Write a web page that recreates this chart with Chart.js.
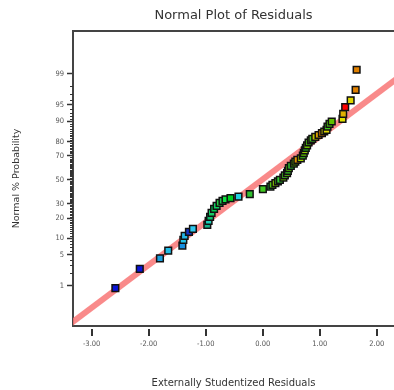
<!DOCTYPE html>
<html>
<head>
<meta charset="utf-8">
<title>Normal Plot of Residuals</title>
<script src="https://cdn.jsdelivr.net/npm/chart.js@4"></script>
<style>
  html, body { margin: 0; padding: 0; background: #fff; }
  #wrap { width: 394px; height: 390px; }
</style>
</head>
<body>
<div id="wrap"><canvas id="chart"></canvas></div>
<script>
// Externally studentized residuals (x) and normal % probability (y)
const residuals = [
  -2.584, -2.156, -1.802, -1.657, -1.409, -1.392, -1.369, -1.294, -1.224, -0.972,
  -0.949, -0.923, -0.897, -0.853, -0.809, -0.757, -0.705, -0.652, -0.565, -0.425,
  -0.227, 0.003, 0.135, 0.170, 0.222, 0.266, 0.301, 0.362, 0.388, 0.427,
  0.441, 0.458, 0.493, 0.545, 0.572, 0.607, 0.668, 0.703, 0.720, 0.738,
  0.755, 0.778, 0.804, 0.843, 0.869, 0.921, 0.979, 1.038, 1.079, 1.119,
  1.136, 1.171, 1.210, 1.399, 1.411, 1.446, 1.542, 1.629, 1.647
];
const probabilities = [
  0.87, 2.52, 4.23, 6.01, 7.44, 9.36, 10.92, 12.65, 14.07, 16.13,
  18.38, 20.81, 23.42, 26.20, 28.40, 30.68, 32.21, 33.40, 34.38, 35.68,
  37.67, 41.91, 44.15, 45.62, 47.11, 48.68, 50.00, 52.02, 53.94, 55.85,
  57.84, 60.14, 62.09, 63.98, 65.62, 67.00, 68.18, 70.33, 72.14, 74.16,
  75.90, 77.58, 79.39, 80.73, 81.62, 82.77, 83.77, 84.76, 85.58, 86.41,
  87.92, 89.08, 90.00, 91.00, 92.66, 94.50, 95.97, 97.60, 99.22
];
// colour of each point (run colouring in the original)
const pointColors = [
  '#0a14d8', '#0a14d8', '#1aa0e0', '#22bde6', '#148fe0', '#22c4e8', '#22b4e6', '#1432c8', '#2ec8f0', '#12b088',
  '#1ccfb8', '#10c070', '#14cc66', '#00c850', '#10d060', '#20d040', '#18c850', '#10e040', '#00d020', '#22d0e0',
  '#30c030', '#40c820', '#20c840', '#50c010', '#90d000', '#40c020', '#30c830', '#70c800', '#40c020', '#60c810',
  '#30c020', '#50c000', '#30c830', '#60c000', '#80c800', '#e09000', '#a0d000', '#40c820', '#60c000', '#90c800',
  '#30c020', '#70c000', '#50c810', '#80c800', '#40c020', '#c0c000', '#d8a000', '#e08000', '#d0d000', '#e0d800',
  '#40c020', '#50c810', '#60c000', '#e0e000', '#e0b000', '#ff0000', '#e0d800', '#e08000', '#e08000'
];
// reference line, two ends (x, %)
const fitX = [-3.5, 2.5];
const fitP = [0.052, 99.09];

const xTicks = [-3, -2, -1, 0, 1, 2];
const yTickLabels = [1, 5, 10, 20, 30, 50, 70, 80, 90, 95, 99];
const yMinorTicks = [2, 3, 4, 6, 7, 8, 9, 11, 12, 13, 14, 15, 16, 17, 18, 19,
  21, 22, 23, 24, 25, 26, 27, 28, 29, 31, 32, 33, 34, 35, 36, 37, 38, 39, 40,
  41, 42, 43, 44, 45, 46, 47, 48, 49, 51, 52, 53, 54, 55, 56, 57, 58, 59, 60,
  61, 62, 63, 64, 65, 66, 67, 68, 69, 71, 72, 73, 74, 75, 76, 77, 78, 79,
  81, 82, 83, 84, 85, 86, 87, 88, 89, 91, 92, 93, 94, 96, 97, 98];

// inverse normal cdf (Acklam), percent in -> z out
function probit(pct) {
  const p = pct / 100;
  const a = [-3.969683028665376e+01, 2.209460984245205e+02, -2.759285104469687e+02, 1.383577518672690e+02, -3.066479806614716e+01, 2.506628277459239e+00];
  const b = [-5.447609879822406e+01, 1.615858368580409e+02, -1.556989798598866e+02, 6.680131188771972e+01, -1.328068155288572e+01];
  const c = [-7.784894002430293e-03, -3.223964580411365e-01, -2.400758277161838e+00, -2.549732539343734e+00, 4.374664141464968e+00, 2.938163982698783e+00];
  const d = [7.784695709041462e-03, 3.224671290700398e-01, 2.445134137142996e+00, 3.754408661907416e+00];
  const plow = 0.02425;
  let q, r;
  if (p < plow) {
    q = Math.sqrt(-2 * Math.log(p));
    return (((((c[0]*q+c[1])*q+c[2])*q+c[3])*q+c[4])*q+c[5]) / ((((d[0]*q+d[1])*q+d[2])*q+d[3])*q+1);
  }
  if (p > 1 - plow) {
    q = Math.sqrt(-2 * Math.log(1 - p));
    return -(((((c[0]*q+c[1])*q+c[2])*q+c[3])*q+c[4])*q+c[5]) / ((((d[0]*q+d[1])*q+d[2])*q+d[3])*q+1);
  }
  q = p - 0.5; r = q * q;
  return (((((a[0]*r+a[1])*r+a[2])*r+a[3])*r+a[4])*r+a[5])*q / (((((b[0]*r+b[1])*r+b[2])*r+b[3])*r+b[4])*r+1);
}

const tickFont = { family: "'Liberation Sans Narrow', 'DejaVu Sans Condensed', sans-serif", size: 7.5 };

// minor ticks on the probability axis, detached ticks on the x axis
const extraTicks = {
  id: 'extraTicks',
  afterDraw(chart) {
    const ctx = chart.ctx;
    const y = chart.scales.y, x = chart.scales.x;
    const area = chart.chartArea;
    ctx.save();
    ctx.strokeStyle = '#333';
    ctx.lineWidth = 1;
    ctx.beginPath();
    yMinorTicks.forEach(p => {
      const py = Math.round(y.getPixelForValue(probit(p))) + 0.5;
      ctx.moveTo(area.left - 3, py);
      ctx.lineTo(area.left, py);
    });
    ctx.stroke();
    ctx.lineWidth = 2;
    ctx.beginPath();
    xTicks.forEach(v => {
      const px = Math.round(x.getPixelForValue(v));
      ctx.moveTo(px, area.bottom + 3);
      ctx.lineTo(px, area.bottom + 10);
    });
    ctx.stroke();
    ctx.restore();
  }
};

function noPadX(s, h) {
  s.height = h;
  s.paddingLeft = 0;
  s.paddingRight = 0;
}

new Chart(document.getElementById('chart'), {
  type: 'scatter',
  data: {
    datasets: [
      {
        label: 'Residuals',
        data: residuals.map((r, i) => ({ x: r, y: probit(probabilities[i]) })),
        pointStyle: 'rect',
        pointRadius: 4.7,
        pointHoverRadius: 4.7,
        backgroundColor: pointColors,
        borderColor: '#111',
        borderWidth: 1.5
      },
      {
        type: 'line',
        label: 'Fit',
        data: fitX.map((v, i) => ({ x: v, y: probit(fitP[i]) })),
        borderColor: 'rgba(248, 118, 118, 0.85)',
        borderWidth: 6,
        pointRadius: 0,
        fill: false,
        clip: 0
      }
    ]
  },
  options: {
    responsive: true,
    maintainAspectRatio: false,
    animation: false,
    layout: { padding: 0, autoPadding: false },
    plugins: {
      legend: { display: false },
      tooltip: { enabled: false }
    },
    scales: {
      x: {
        type: 'linear',
        position: 'bottom',
        min: -3.327,
        max: 2.302,
        afterBuildTicks: s => { s.ticks = xTicks.map(v => ({ value: v })); },
        afterFit: s => noPadX(s, 64),
        grid: { drawOnChartArea: false, drawTicks: false },
        border: { display: true, color: '#444', width: 2 },
        ticks: {
          padding: 14,
          color: '#555',
          font: tickFont,
          maxRotation: 0,
          callback: v => v.toFixed(2)
        },
        title: {
          display: true,
          text: 'Externally Studentized Residuals',
          color: '#333',
          font: { family: "'DejaVu Sans', sans-serif", size: 10 },
          padding: { top: 0, bottom: 1 }
        }
      },
      top: {
        type: 'linear',
        position: 'top',
        min: -3.327,
        max: 2.302,
        afterBuildTicks: s => { s.ticks = xTicks.map(v => ({ value: v })); },
        afterFit: s => noPadX(s, 31),
        grid: { drawOnChartArea: false, drawTicks: false },
        border: { display: true, color: '#444', width: 2 },
        ticks: { display: false },
        title: {
          display: true,
          text: 'Normal Plot of Residuals',
          color: '#333',
          font: { family: "'DejaVu Sans', sans-serif", size: 13 },
          padding: { top: 8, bottom: 0 }
        }
      },
      y: {
        type: 'linear',
        position: 'left',
        min: -3.21,
        max: 3.27,
        afterBuildTicks: s => { s.ticks = yTickLabels.map(p => ({ value: probit(p) })); },
        afterFit: s => { s.width = 73; s.paddingTop = 0; s.paddingBottom = 0; },
        grid: { drawOnChartArea: false, drawTicks: true, tickLength: 6, tickWidth: 1.5, tickColor: '#333' },
        border: { display: true, color: '#444', width: 2 },
        ticks: {
          padding: 3,
          color: '#555',
          font: tickFont,
          callback: (v, i) => String(yTickLabels[i])
        },
        title: {
          display: true,
          text: 'Normal % Probability',
          color: '#333',
          font: { family: "'DejaVu Sans', sans-serif", size: 9.5 },
          padding: { top: 11, bottom: 0 }
        }
      }
    }
  },
  plugins: [extraTicks]
});
</script>
</body>
</html>
